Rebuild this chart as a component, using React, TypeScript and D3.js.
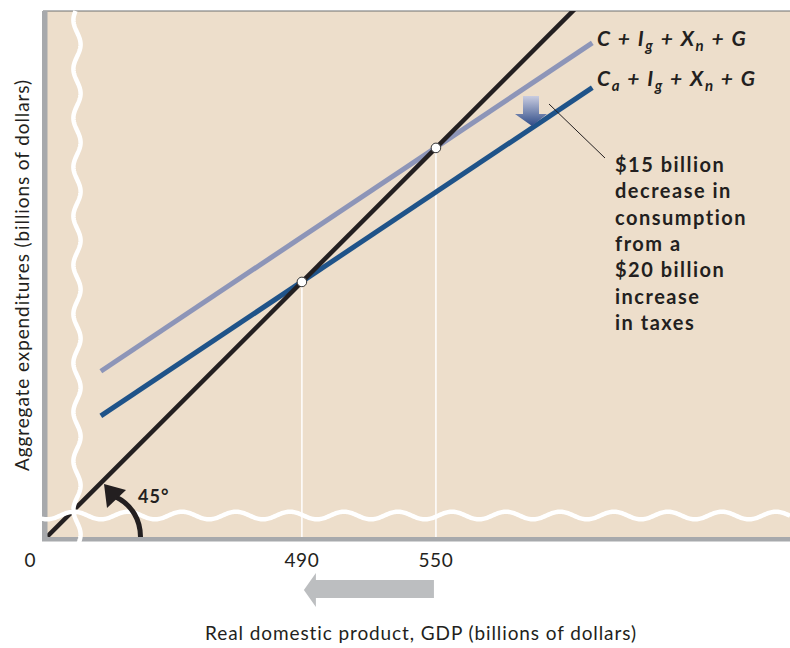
import React from "react";
import * as d3 from "d3";

// ---- data ----
const xDomain = [375, 708.5]; // visible GDP range (broken axis)
const yDomain = [375.8, 611.3]; // visible AE range (broken axis)
const diagX = [376, 640]; // 45-degree line
const aeX = [400, 620];
const aeOriginal = [450, 597]; // C + Ig + Xn + G
const aeLower = [430, 577]; // Ca + Ig + Xn + G
const equilibria = [490, 550];
const tickLabels = ["490", "550"];
const noteLines = [
  "$15 billion",
  "decrease in",
  "consumption",
  "from a",
  "$20 billion",
  "increase",
  "in taxes",
];

const W = 790;
const H = 648;
const L = 45;
const R = 790;
const T = 11;
const B = 537;

const BEIGE = "#EDDECB";
const LIGHT = "#8D95B8";
const DARK = "#1F5389";
const INK = "#231F20";
const AXIS = "#A7A9AC";
const FONT = "Lato, 'Open Sans', sans-serif";

function wavePath(
  horizontal: boolean,
  start: number,
  end: number,
  center: number,
  amp: number,
  period: number,
  minAt: number
) {
  const pts: [number, number][] = [];
  for (let t = start; t <= end; t += 1) {
    const off = amp * Math.sin(((t - minAt) / period) * 2 * Math.PI - Math.PI / 2);
    pts.push(horizontal ? [t, center + off] : [center + off, t]);
  }
  return d3.line()(pts) || "";
}

export default function App() {
  const x = d3.scaleLinear().domain(xDomain).range([L, R]);
  const y = d3.scaleLinear().domain(yDomain).range([B, T]);
  const seg = (xs: number[], ys: number[]) =>
    d3
      .line<[number, number]>()
      .x((d) => x(d[0]))
      .y((d) => y(d[1]))(xs.map((v, i) => [v, ys[i]] as [number, number])) || "";

  const labelStyle = { letterSpacing: "1.6px" };
  const sub = 15;

  return (
    <svg
      width={W}
      height={H}
      style={{ position: "absolute", left: 0, top: 0 }}
      fontFamily={FONT}
    >
      <defs>
        <clipPath id="plot">
          <rect x={L} y={T} width={R - L} height={B - T} />
        </clipPath>
        <linearGradient id="down" x1="0" y1="0" x2="0" y2="1">
          <stop offset="0" stopColor="#C9CCE0" />
          <stop offset="1" stopColor="#2F4C88" />
        </linearGradient>
      </defs>
      <rect x={0} y={0} width={W} height={H} fill="#fff" />
      <rect x={L} y={T} width={R - L} height={B - T} fill={BEIGE} />
      <line x1={L - 2} x2={R} y1={T} y2={T} stroke="#6D6E71" strokeWidth={1} />

      {/* guides from equilibria */}
      {equilibria.map((e) => (
        <line
          key={e}
          x1={x(e)}
          x2={x(e)}
          y1={y(e)}
          y2={B}
          stroke="#fff"
          strokeWidth={1.5}
        />
      ))}

      <g clipPath="url(#plot)">
        <path d={seg(aeX, aeOriginal)} stroke={LIGHT} strokeWidth={5} fill="none" />
        <path d={seg(aeX, aeLower)} stroke={DARK} strokeWidth={5} fill="none" />
        <path d={seg(diagX, diagX)} stroke={INK} strokeWidth={4.5} fill="none" />
      </g>

      {equilibria.map((e) => (
        <circle
          key={"p" + e}
          cx={x(e)}
          cy={y(e)}
          r={4.8}
          fill="#fff"
          stroke="#333"
          strokeWidth={1}
        />
      ))}

      {/* axes */}
      <rect x={42} y={T} width={5.5} height={B - T + 4} fill={AXIS} />
      <rect x={42} y={B} width={R - 42} height={4.5} fill={AXIS} />

      {/* break marks */}
      <path
        d={wavePath(false, T, B + 6, 77, 3.6, 49, 167)}
        stroke="#fff"
        strokeWidth={4.5}
        fill="none"
      />
      <path
        d={wavePath(true, 40, R, 515.5, 3.8, 54, 560)}
        stroke="#fff"
        strokeWidth={4.5}
        fill="none"
      />

      {/* 45 degree marker */}
      <path
        d="M140.5,537 C140.5,520 132,505 116,497"
        stroke={INK}
        strokeWidth={5}
        fill="none"
      />
      <polygon points="104,484 107,508 126,490" fill={INK} />
      <text x={138} y={503} fontSize={18} fontWeight="bold" fill={INK} style={{ letterSpacing: "1px" }}>
        45°
      </text>

      {/* shift arrow */}
      <polygon
        points="523,96 539,96 539,114 547,114 532,126 515,114 523,114"
        fill="url(#down)"
      />
      <line x1={549} y1={104} x2={605} y2={158} stroke={INK} strokeWidth={1} />

      {/* curve labels */}
      <text x={597} y={46} fontSize={21} fontWeight="bold" fontStyle="italic" fill={INK} style={labelStyle}>
        {"C + I"}
        <tspan fontSize={sub} dy={5}>g</tspan>
        <tspan dy={-5}>{" + X"}</tspan>
        <tspan fontSize={sub} dy={5}>n</tspan>
        <tspan dy={-5}>{" + G"}</tspan>
      </text>
      <text x={597} y={86} fontSize={21} fontWeight="bold" fontStyle="italic" fill={INK} style={labelStyle}>
        {"C"}
        <tspan fontSize={sub} dy={5}>a</tspan>
        <tspan dy={-5}>{" + I"}</tspan>
        <tspan fontSize={sub} dy={5}>g</tspan>
        <tspan dy={-5}>{" + X"}</tspan>
        <tspan fontSize={sub} dy={5}>n</tspan>
        <tspan dy={-5}>{" + G"}</tspan>
      </text>

      {/* note */}
      <text
        x={615}
        y={172}
        fontSize={20}
        fontWeight="bold"
        fill={INK}
        style={{ letterSpacing: "1.5px" }}
      >
        {noteLines.map((t, i) => (
          <tspan key={i} x={615} y={172 + i * 26.3}>
            {t}
          </tspan>
        ))}
      </text>

      {/* ticks */}
      {equilibria.map((e, i) => (
        <text
          key={"t" + e}
          x={x(e)}
          y={567}
          fontSize={19}
          textAnchor="middle"
          fill={INK}
          style={{ letterSpacing: "0.6px" }}
        >
          {tickLabels[i]}
        </text>
      ))}
      <text x={30} y={567} fontSize={19} textAnchor="middle" fill={INK}>
        0
      </text>

      {/* GDP decrease arrow */}
      <polygon
        points={`${x(equilibria[1]) - 2},580 ${x(equilibria[0]) + 14},580 ${x(equilibria[0]) + 14},573 ${x(equilibria[0]) + 2},590 ${x(equilibria[0]) + 14},607 ${x(equilibria[0]) + 14},598 ${x(equilibria[1]) - 2},598`}
        fill="#BCBEC0"
      />

      {/* axis titles */}
      <text
        x={421}
        y={640}
        fontSize={19}
        textAnchor="middle"
        fill={INK}
        style={{ letterSpacing: "0.9px" }}
      >
        Real domestic product, GDP (billions of dollars)
      </text>
      <text
        transform="translate(29,275) rotate(-90)"
        fontSize={19}
        textAnchor="middle"
        fill={INK}
        style={{ letterSpacing: "0.9px" }}
      >
        Aggregate expenditures (billions of dollars)
      </text>
    </svg>
  );
}
